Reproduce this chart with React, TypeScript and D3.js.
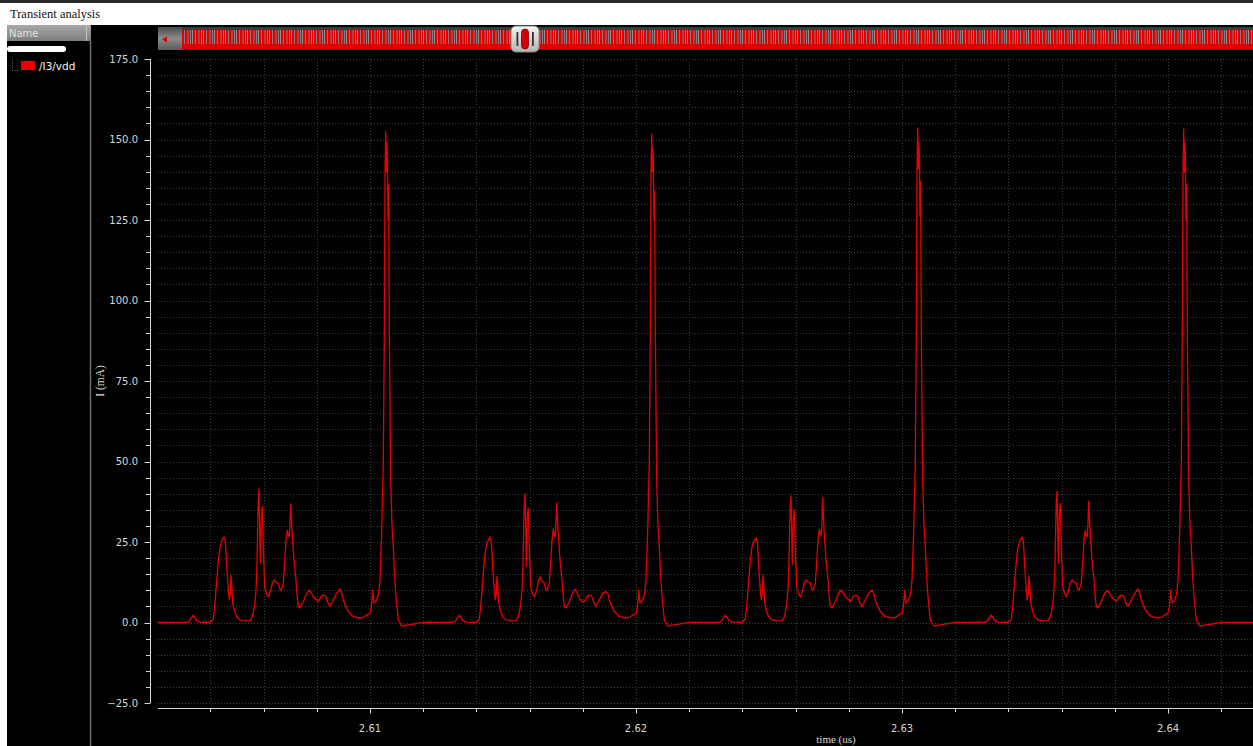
import React from 'react';
import * as d3 from 'd3';

const W = 1253;
const H = 746;

// Sample instants inside one 10 ns clock cycle (ns from cycle start)
const sampleOffsetsNs = [
  0, 1.045, 1.195, 1.357, 1.496, 1.609, 1.985, 2.109, 2.173, 2.237,
  2.297, 2.361, 2.436, 2.511, 2.556, 2.586, 2.613, 2.673, 2.711, 2.744,
  2.774, 2.805, 2.838, 2.906, 2.989, 3.113, 3.301, 3.489, 3.564, 3.613,
  3.669, 3.714, 3.752, 3.778, 3.801, 3.827, 3.85, 3.876, 3.895, 3.914,
  3.951, 3.989, 4.041, 4.109, 4.177, 4.267, 4.335, 4.391, 4.466, 4.553,
  4.605, 4.654, 4.741, 4.797, 4.842, 4.891, 4.929, 4.966, 4.992, 5.019,
  5.041, 5.068, 5.143, 5.218, 5.263, 5.305, 5.368, 5.492, 5.62, 5.718,
  5.801, 5.868, 5.97, 6.056, 6.158, 6.244, 6.327, 6.421, 6.496, 6.62,
  6.748, 6.872, 6.94, 6.996, 7.09, 7.184, 7.372, 7.624, 7.774, 7.876,
  8.0, 8.056, 8.102, 8.15, 8.252, 8.327, 8.376, 8.44, 8.5, 8.538,
  8.564, 8.59, 8.613, 8.628, 8.651, 8.677, 8.699, 8.726, 8.778, 8.827,
  8.876, 8.929, 8.977, 9.064, 9.192, 9.38, 9.628, 9.88, 10.0,
];

// Start time of each clock cycle (us)
const cycleStartsUs = [2.602, 2.612, 2.622, 2.632];

// Supply current of /I3/vdd per cycle (mA)
const cycle1Ma = [
  0, 0, 0.3, 2.3, 0.6, 0.1, 0, 1, 6, 13,
  19, 23.5, 25.5, 26.6, 25.5, 22, 17.3, 10, 7, 9,
  14.7, 11, 6, 3.5, 1.8, 0.8, 0.5, 0.6, 1.5, 3,
  6, 10, 18, 30, 38, 41.5, 30, 18.5, 26, 32.9,
  36, 23.5, 11, 9, 8, 10, 12.5, 13.2, 12.5, 12.2,
  10.5, 10, 12.2, 19, 25.6, 28.7, 27, 26.6, 31, 36.8,
  33, 28.7, 19.4, 13.2, 8, 4.9, 4.5, 6.5, 9.1, 10,
  9, 8, 7.2, 6.5, 8, 8.5, 8.3, 6, 4.9, 7,
  9.1, 10.4, 9, 7, 5, 3.4, 1.8, 1.4, 1.7, 2.3,
  2.9, 5, 10, 6, 7, 9.1, 13.2, 28.7, 50, 90,
  139, 152.6, 140, 149, 146, 125, 136, 90, 44, 30,
  23.5, 14, 8, 0.8, -1.1, -0.8, -0.5, -0.1, 0,
];
const cycle2Ma = [
  0, 0, 0.3, 2.3, 0.6, 0.1, 0, 1, 6, 13,
  19, 23.5, 25.5, 26.6, 25.5, 22, 17.3, 10, 7, 9,
  14.3, 11, 6, 3.5, 1.8, 0.8, 0.5, 0.6, 1.5, 3,
  6, 10, 18, 30, 37, 39.9, 31, 17.3, 26, 33,
  35.5, 23.5, 11, 9, 8, 10, 13, 14.2, 13, 12.2,
  10.5, 10, 12.2, 19, 25.6, 29.2, 27, 26.6, 31, 37.2,
  33, 28.7, 19.4, 13.2, 8, 4.9, 4.5, 6.5, 9.3, 10.3,
  9, 7.5, 6.4, 6.5, 8, 8.5, 8.3, 6, 4.9, 7,
  9.1, 9.6, 9, 7, 5, 3.4, 1.8, 1.4, 1.7, 2.3,
  2.9, 5, 10, 6, 7, 9.1, 13.2, 28.7, 50, 90,
  139, 151.7, 140, 147, 144, 125, 134, 90, 44, 30,
  23.5, 14, 8, 0.8, -1.1, -0.8, -0.5, -0.1, 0,
];
const cycle3Ma = [
  0, 0, 0.3, 2.3, 0.6, 0.1, 0, 1, 6, 13,
  19, 23.5, 25.3, 26.3, 25.3, 22, 17.3, 10, 7, 9,
  14.7, 11, 6, 3.5, 1.8, 0.8, 0.5, 0.6, 1.5, 3,
  6, 10, 18, 30, 37, 39.3, 30, 18, 26, 32.5,
  35, 23.5, 11, 9, 8, 10, 12.5, 13.2, 12.5, 12.2,
  10.5, 10, 12.2, 19, 25.6, 29, 27.5, 27, 32, 38.7,
  34, 28.7, 19.4, 13.2, 8, 4.9, 4.5, 6.5, 9.1, 10,
  9, 8, 7.2, 6.5, 8, 8.5, 8.3, 6, 4.9, 7,
  9.1, 10, 9, 7, 5, 3.4, 1.8, 1.4, 1.7, 2.3,
  2.9, 5, 10, 6, 7, 9.1, 13.2, 28.7, 50, 90,
  140, 153.6, 141, 149, 146, 126, 137, 90, 44, 30,
  23.5, 14, 8, 0.8, -1.1, -0.8, -0.5, -0.1, 0,
];
const cycle4Ma = [
  0, 0, 0.3, 2.3, 0.6, 0.1, 0, 1, 6, 13,
  19, 23.5, 25.5, 26.6, 25.5, 22, 17.3, 10, 7, 9,
  14.5, 11, 6, 3.5, 1.8, 0.8, 0.5, 0.6, 1.5, 3,
  6, 10, 18, 30, 38, 40.8, 30, 18.5, 26, 33.5,
  37, 23.5, 11, 9, 8, 10, 12.5, 13.2, 12.5, 12.2,
  10.5, 10, 12.2, 19, 25.6, 28.7, 27, 26.6, 31, 37.7,
  33, 28.7, 19.4, 13.2, 8, 4.9, 4.5, 6.5, 9.1, 10,
  9, 8, 7.2, 6.5, 8, 8.5, 8.3, 6, 4.9, 7,
  9.1, 10.4, 9, 7, 5, 3.4, 1.8, 1.4, 1.7, 2.3,
  2.9, 5, 10, 6, 7, 9.1, 13.2, 28.7, 50, 90,
  139, 153.3, 140, 149, 146, 125, 136, 90, 44, 30,
  23.5, 14, 8, 0.8, -1.1, -0.8, -0.5, -0.1, 0,
];
const cycleCurrentsMa = [cycle1Ma, cycle2Ma, cycle3Ma, cycle4Ma];

// Quiet tail after the last edge
const tailTimesUs = [2.6435];
const tailCurrentsMa = [0];

const yMajorTicks = [-25, 0, 25, 50, 75, 100, 125, 150, 175];
const xTickLabels = ['2.61', '2.62', '2.63', '2.64'];
const xTickValues = [2.61, 2.62, 2.63, 2.64];

const seriesName = '/I3/vdd';
const windowTitle = 'Transient analysis';
const xTitle = 'time (us)';
const yTitle = 'I (mA)';

// Layout
const plotLeft = 158;
const plotRight = 1253;
const plotTop = 59;
const plotBottom = 703;
const yAxisX = 150.5;
const xAxisY = 708.5;

const RED = '#e80000';
const GRID = '#3c3c3c';
const LABEL = '#d6d6d6';
const SANS = 'DejaVu Sans, Verdana, sans-serif';
const SERIF = 'Liberation Serif, Times New Roman, serif';

export default function App() {
  const x = d3.scaleLinear().domain([2.60203, 2.643195]).range([plotLeft, plotRight]);
  const y = d3.scaleLinear().domain([-25, 175]).range([plotBottom, plotTop]);

  const points: [number, number][] = [];
  cycleStartsUs.forEach((start, c) => {
    sampleOffsetsNs.forEach((off, i) => {
      points.push([start + off / 1000, cycleCurrentsMa[c][i]]);
    });
  });
  tailTimesUs.forEach((t, i) => points.push([t, tailCurrentsMa[i]]));

  const line = d3
    .line<[number, number]>()
    .x((d) => x(d[0]))
    .y((d) => y(d[1]));

  const yMinor = d3.range(-25, 176, 5);
  const xMinor = d3.range(1302, 1322).map((k) => +(k * 0.002).toFixed(3));
  const fmtY = d3.format('.1f');

  return (
    <svg
      width={W}
      height={H}
      viewBox={`0 0 ${W} ${H}`}
      style={{ position: 'fixed', left: 0, top: 0, display: 'block' }}
    >
      <defs>
        <linearGradient id="hdr" x1="0" y1="0" x2="0" y2="1">
          <stop offset="0" stopColor="#a9a9a9" />
          <stop offset="1" stopColor="#7d7d7d" />
        </linearGradient>
        <linearGradient id="btn" x1="0" y1="0" x2="0" y2="1">
          <stop offset="0" stopColor="#4a4a4a" />
          <stop offset="0.5" stopColor="#8c8c8c" />
          <stop offset="1" stopColor="#5a5a5a" />
        </linearGradient>
        <linearGradient id="thumb" x1="0" y1="0" x2="0" y2="1">
          <stop offset="0" stopColor="#f4f4f4" />
          <stop offset="1" stopColor="#b4b4b4" />
        </linearGradient>
        <pattern id="stripes" width="11" height="14" patternUnits="userSpaceOnUse">
          <rect x="0.5" y="0" width="1" height="14" fill="#8a7f80" />
          <rect x="3" y="0" width="1" height="14" fill="#8a7f80" />
          <rect x="5" y="0" width="1" height="14" fill="#9a8f90" />
          <rect x="8" y="0" width="1" height="14" fill="#8a7f80" />
        </pattern>
        <clipPath id="plotClip">
          <rect x={plotLeft} y={plotTop - 6} width={plotRight - plotLeft} height={plotBottom - plotTop + 12} />
        </clipPath>
      </defs>

      {/* window chrome */}
      <rect x={0} y={0} width={W} height={H} fill="#ffffff" />
      <rect x={0} y={0} width={W} height={3} fill="#2a2a2a" />
      <text x={10} y={18} fontFamily={SERIF} fontSize={12.5} fill="#111">
        {windowTitle}
      </text>
      <rect x={7} y={25} width={W - 7} height={H - 25} fill="#000" />

      {/* signal browser */}
      <rect x={7} y={25} width={79} height={16} fill="url(#hdr)" />
      <rect x={87} y={25} width={4} height={16} fill="url(#hdr)" />
      <line x1={86.5} y1={25} x2={86.5} y2={41} stroke="#c8c8c8" />
      <text x={9} y={37} fontFamily={SANS} fontSize={10} fill="#e2e2e2">
        Name
      </text>
      <rect x={7} y={46} width={59} height={6} rx={3} fill="#fff" />
      <line x1={12.5} y1={60} x2={12.5} y2={70} stroke="#6a6a6a" strokeDasharray="1,1.5" />
      <line x1={12} y1={70.5} x2={19} y2={70.5} stroke="#6a6a6a" strokeDasharray="1,1.5" />
      <rect x={21} y={61} width={14} height={9} fill={RED} />
      <text x={39} y={70} fontFamily={SANS} fontSize={10.5} fill="#f2f2f2">
        {seriesName}
      </text>
      <line x1={90.5} y1={41} x2={90.5} y2={H} stroke="#6e6e6e" strokeWidth={1.5} />

      {/* overview scroller */}
      <rect x={plotLeft} y={27} width={plotRight - plotLeft} height={23} fill="#3a3a3a" />
      <rect x={plotLeft} y={27} width={24} height={23} fill="url(#btn)" />
      <path d="M162,39.5 L167,36.5 L167,42.5 Z" fill="#e00000" />
      <rect x={182} y={30} width={plotRight - 182} height={19} fill="#e00000" />
      <rect x={182} y={30} width={plotRight - 182} height={14} fill="url(#stripes)" />
      <rect x={511} y={26} width={28} height={26} rx={5} fill="url(#thumb)" stroke="#8a8a8a" />
      <rect x={516.5} y={32} width={1.8} height={14} fill="#333" />
      <rect x={532} y={32} width={1.8} height={14} fill="#333" />
      <rect x={521.5} y={29} width={7} height={20} rx={3.5} fill="#d40000" stroke="#7a0000" strokeWidth={0.8} />

      {/* grid */}
      <g>
        {yMinor.map((v) => (
          <line
            key={`gy${v}`}
            x1={plotLeft}
            x2={plotRight}
            y1={Math.round(y(v)) + 0.5}
            y2={Math.round(y(v)) + 0.5}
            stroke={GRID}
            strokeDasharray="1,2"
          />
        ))}
        {xMinor.map((v) => (
          <line
            key={`gx${v}`}
            x1={Math.round(x(v)) + 0.5}
            x2={Math.round(x(v)) + 0.5}
            y1={plotTop}
            y2={plotBottom}
            stroke={GRID}
            strokeDasharray="1,2"
          />
        ))}
      </g>

      {/* y axis */}
      <line x1={yAxisX} y1={y(175)} x2={yAxisX} y2={y(-25)} stroke={LABEL} />
      {yMinor.map((v) => (
        <line
          key={`ty${v}`}
          x1={yMajorTicks.includes(v) ? yAxisX - 6 : yAxisX - 4.5}
          x2={yAxisX}
          y1={Math.round(y(v)) + 0.5}
          y2={Math.round(y(v)) + 0.5}
          stroke={LABEL}
        />
      ))}
      {yMajorTicks.map((v) => (
        <text
          key={`ly${v}`}
          x={138}
          y={y(v) + 3.5}
          textAnchor="end"
          fontFamily={SANS}
          fontSize={10}
          fill={LABEL}
        >
          {fmtY(v)}
        </text>
      ))}
      <text
        transform={`translate(104,${(plotTop + plotBottom) / 2}) rotate(-90)`}
        textAnchor="middle"
        fontFamily={SERIF}
        fontSize={11.5}
        fill={LABEL}
      >
        {yTitle}
      </text>

      {/* x axis */}
      <line x1={plotLeft} y1={xAxisY} x2={plotRight} y2={xAxisY} stroke={LABEL} />
      {xMinor.map((v) => (
        <line
          key={`tx${v}`}
          x1={Math.round(x(v)) + 0.5}
          x2={Math.round(x(v)) + 0.5}
          y1={xAxisY}
          y2={xTickValues.some((t) => Math.abs(t - v) < 1e-6) ? xAxisY + 5 : xAxisY + 3.5}
          stroke={LABEL}
        />
      ))}
      {xTickValues.map((v, i) => (
        <text
          key={`lx${v}`}
          x={x(v)}
          y={732}
          textAnchor="middle"
          fontFamily={SANS}
          fontSize={10}
          fill={LABEL}
        >
          {xTickLabels[i]}
        </text>
      ))}
      <text x={836} y={742.5} textAnchor="middle" fontFamily={SERIF} fontSize={11} fill={LABEL}>
        {xTitle}
      </text>

      {/* trace */}
      <g clipPath="url(#plotClip)">
        <path d={line(points) ?? ''} fill="none" stroke={RED} strokeWidth={1.3} strokeLinejoin="round" />
      </g>
    </svg>
  );
}
